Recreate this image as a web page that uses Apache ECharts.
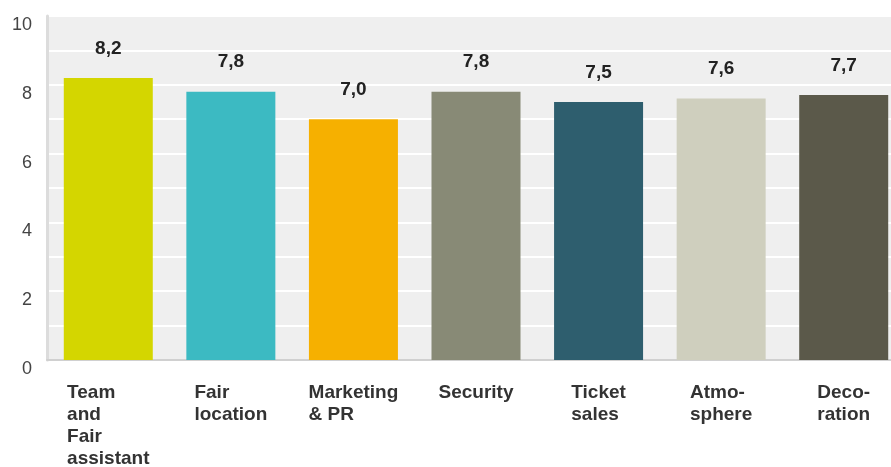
<!DOCTYPE html>
<html>
<head>
<meta charset="utf-8">
<script src="https://cdn.jsdelivr.net/npm/echarts@6/dist/echarts.min.js"></script>
<style>
  html, body { margin: 0; padding: 0; background: #ffffff; }
  #chart { width: 891px; height: 467px; }
</style>
</head>
<body>
<div id="chart"></div>
<script>
// Ratings per area
const categories = [
  'Team\nand\nFair\nassistant',
  'Fair\nlocation',
  'Marketing\n& PR',
  'Security',
  'Ticket\nsales',
  'Atmo-\nsphere',
  'Deco-\nration'
];
const scores = [8.2, 7.8, 7.0, 7.8, 7.5, 7.6, 7.7];
const barColors = ['#d4d600', '#3cbac2', '#f6b000', '#888a76', '#2e5e6e', '#cfcfbe', '#5b594a'];
const yTickLabels = ['0', '2', '4', '6', '8', '10'];

const chart = echarts.init(document.getElementById('chart'), null, { renderer: 'canvas' });

const labelFont = 'Liberation Sans, Arial, sans-serif';

chart.setOption({
  animation: false,
  grid: {
    // the plot runs a little past the right edge of the canvas
    left: 47, width: 858, top: 16, bottom: 107,
    outerBoundsMode: 'none',
    containLabel: false,
    show: true, backgroundColor: '#efefef', borderWidth: 0
  },
  xAxis: {
    type: 'category',
    data: categories,
    axisLine: { show: true, lineStyle: { color: '#d0d0d0', width: 2 } },
    axisTick: { show: false },
    axisLabel: {
      margin: 22,
      interval: 0,
      align: 'center',
      verticalAlign: 'top',
      formatter: function (v) {
        return v.split('\n').map(function (l) { return '{l|' + l + '}'; }).join('\n');
      },
      rich: {
        l: {
          align: 'left',
          fontFamily: labelFont,
          fontWeight: 'bold',
          fontSize: 19,
          lineHeight: 22,
          color: '#333333'
        }
      }
    }
  },
  yAxis: {
    type: 'value',
    min: 0, max: 10, interval: 1,
    axisLine: { show: true, lineStyle: { color: '#dcdcdc', width: 3 } },
    axisTick: { show: false },
    splitLine: { show: true, lineStyle: { color: '#ffffff', width: 2 } },
    axisLabel: {
      margin: 15,
      fontFamily: labelFont,
      fontSize: 18,
      color: '#444444',
      verticalAlign: 'top',
      lineHeight: 18,
      formatter: function (v) {
        return yTickLabels.indexOf(String(v)) >= 0 ? String(v) : '';
      }
    }
  },
  series: [{
    type: 'bar',
    barWidth: 89,
    data: scores.map(function (v, i) {
      return { value: v, itemStyle: { color: barColors[i] } };
    }),
    label: {
      show: true,
      position: 'top',
      distance: 20,
      fontFamily: labelFont,
      fontWeight: 'bold',
      fontSize: 19,
      color: '#222222',
      formatter: function (p) { return p.value.toFixed(1).replace('.', ','); }
    }
  }]
});
</script>
</body>
</html>
